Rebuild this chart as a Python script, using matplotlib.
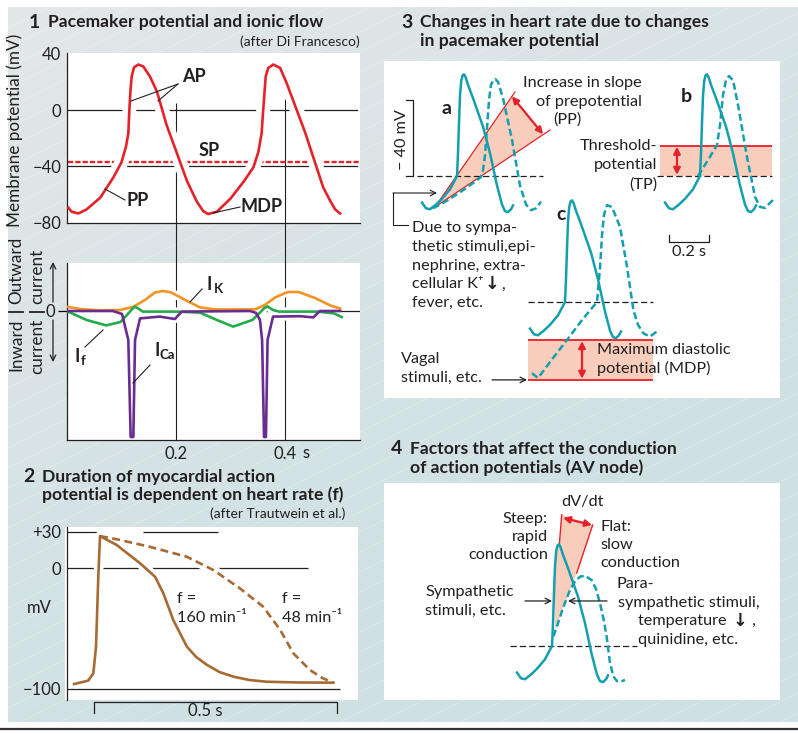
import numpy as np
import matplotlib
matplotlib.use("Agg")
import matplotlib.pyplot as plt
from matplotlib.patches import Rectangle

plt.rcParams['font.family'] = ['Lato', 'DejaVu Sans']

INK = '#231f20'
RED = '#e42229'
TEAL = '#149fae'
SALMON = '#f9cdbb'
BROWN = '#a66a33'
ORANGE = '#f39325'
GREEN = '#23aa4b'
PURPLE = '#6b2c91'

# ---------------- panel 1: pacemaker potential (s, mV)
pm_t = [0.0025, 0.0086, 0.021, 0.036, 0.061, 0.085, 0.100, 0.108, 0.1125, 0.1144,
        0.1165, 0.1187, 0.123, 0.131, 0.140, 0.152, 0.165, 0.183, 0.201, 0.220,
        0.238, 0.250, 0.259, 0.275, 0.300, 0.325, 0.342, 0.351, 0.357, 0.360,
        0.3646, 0.3694, 0.3786, 0.391, 0.403, 0.437, 0.470, 0.483, 0.492, 0.501]
pm_v = [-69.5, -72.4, -73.6, -70.7, -62.4, -48, -37.2, -26.4, -16.8, 0,
        14, 24, 30.4, 32.4, 31, 24, 13.2, -11, -30, -50.4,
        -65, -72, -74, -72.4, -63, -50.5, -40.8, -30, -16.8, 0,
        24, 30, 32.4, 30, 19.2, -16, -55, -64.7, -70.7, -73.6]
sp_level = -37
time_marks = [0.2, 0.4]
mark_tops = [5, 12]

# ionic currents (arbitrary units, outward positive)
ik_t = [0.002, 0.024, 0.06, 0.097, 0.121, 0.143, 0.161, 0.176, 0.191, 0.217,
        0.244, 0.272, 0.345, 0.363, 0.382, 0.405, 0.425, 0.455, 0.483, 0.501]
ik_i = [0.2, 0.1, 0.03, 0.05, 0.2, 0.55, 0.92, 1.0, 0.93, 0.55,
        0.18, 0.08, 0.08, 0.3, 0.68, 0.95, 0.95, 0.65, 0.28, 0.12]
if_t = [0.002, 0.036, 0.072, 0.098, 0.110, 0.118, 0.124, 0.131, 0.139, 0.20,
        0.244, 0.275, 0.305, 0.340, 0.356, 0.362, 0.368, 0.378, 0.389, 0.46,
        0.49, 0.504]
if_i = [-0.03, -0.45, -0.72, -0.55, -0.2, 0.05, 0.22, 0.12, -0.03, -0.03,
        -0.08, -0.45, -0.78, -0.45, -0.03, 0.15, 0.23, 0.05, -0.03, -0.03,
        -0.12, -0.3]
ica_t = [0.0, 0.084, 0.101, 0.1125, 0.1168, 0.1217, 0.1248, 0.134, 0.170, 0.198,
         0.2105, 0.336, 0.347, 0.354, 0.358, 0.3615, 0.365, 0.368, 0.378, 0.428,
         0.452, 0.464, 0.501]
ica_i = [0.0, 0.0, -0.15, -1.45, -6.3, -6.3, -1.45, -0.37, -0.28, -0.4,
         -0.03, 0.0, -0.1, -0.45, -1.45, -6.3, -6.3, -1.45, -0.28, -0.26,
         -0.32, 0.0, 0.0]

# ---------------- panel 2: myocardial AP at two heart rates (s, mV)
fast_t = [-0.041, -0.012, -0.0014, 0.0041, 0.0088, 0.0123, 0.0467, 0.0947, 0.1255,
          0.1426, 0.163, 0.191, 0.21, 0.232, 0.258, 0.2866, 0.32, 0.355, 0.42, 0.4924]
fast_v = [-95.9, -93.1, -87, -65, -7.2, 26.4, 19, 3.9, -7.2,
          -20.9, -43, -65, -73.5, -80, -86, -89.8, -92.6, -94, -94.6, -94.8]
slow_t = [0.0123, 0.05, 0.115, 0.191, 0.2455, 0.30, 0.348, 0.383, 0.41, 0.444, 0.47, 0.492]
slow_v = [26.4, 23.5, 17.5, 9.3, -1.7, -16.8, -32, -51.2, -70.5, -84.3, -91, -94.8]

# ---------------- panels 3 and 4: schematic APs (s, mV)
threshold = -40
ctl_t = [-0.04, -0.02, 0.0, 0.03, 0.06, 0.10, 0.135, 0.140, 0.145, 0.150, 0.156, 0.163,
         0.170, 0.178, 0.19, 0.215, 0.265, 0.30, 0.335, 0.36, 0.375, 0.39, 0.405, 0.415]
ctl_v = [-54, -57, -57.5, -55, -52, -47, -40, -28, -12, 2, 10, 13,
         13.5, 12, 8, 1, -14, -28, -45, -55, -58.5, -59, -57.5, -55.5]
# a: steeper prepotential
slope_t = [0.015, 0.06, 0.10, 0.165, 0.225, 0.255, 0.265, 0.275, 0.285, 0.295, 0.305,
           0.317, 0.327, 0.34, 0.365, 0.41, 0.45, 0.48, 0.505, 0.53, 0.555]
slope_v = [-57, -54.5, -52, -47.5, -43, -40.5, -37, -29, -15, 0, 8,
           10.5, 11, 9.5, 1, -21, -45, -55, -58, -57, -53.5]
wedge_t = [0.025, 0.41, 0.565]
wedge_v = [-56.3, 1.9, -18]
wedge_ends_t = [0.425, 0.60]
wedge_ends_v = [4.2, -15.8]
# b: higher threshold potential
tp_level = -24
tp_t = [0.125, 0.175, 0.22, 0.235, 0.25, 0.265, 0.28, 0.30, 0.325, 0.37, 0.41, 0.435, 0.46, 0.50]
tp_v = [-40, -31.6, -23.7, -13.2, 2.6, 10.5, 12.6, 10.5, -2.6, -30, -51, -56.3, -56.8, -52.6]
# c: more negative maximum diastolic potential
mdp_ctl, mdp_low = -60, -81
mdp_t = [-0.03, 0.0, 0.075, 0.145, 0.22, 0.295, 0.31, 0.32, 0.33, 0.345, 0.37,
         0.41, 0.445, 0.477, 0.50, 0.527, 0.56, 0.593]
mdp_v = [-77.5, -80, -69.5, -60, -49.5, -40, -22, -5, 6, 11, 10,
         -0.5, -21.5, -44.2, -52, -56.5, -58.2, -55.6]
# 4: slow upstroke (AV node)
av_t = [0.142, 0.165, 0.19, 0.21, 0.225, 0.25, 0.275, 0.30, 0.333, 0.355, 0.375,
        0.395, 0.408, 0.425, 0.442, 0.46, 0.475, 0.50]
av_v = [-35, -28, -20, -14.5, -10.5, -6, -3.5, -3, -5.3, -10, -17.4,
        -27, -35, -49, -56, -58.5, -58.8, -57.9]
dvdt_t = [0.1835, 0.3385, 0.2585, 0.225, 0.19, 0.15, 0.150, 0.156, 0.1715]
dvdt_v = [29, 23.7, -1.6, -10.5, -20, -31.6, 2, 10, 13.2]

W, H = 798, 734
PX_S, PX_MV = 200, 1.9
fig = plt.figure(figsize=(W / 100, H / 100), dpi=100)


def px_axes(x0, y0, x1, y1):
    ax = fig.add_axes([x0 / W, 1 - y1 / H, (x1 - x0) / W, (y1 - y0) / H])
    ax.patch.set_alpha(0)
    return ax


def part_axes(box, t0_px, thr_py):
    ax = px_axes(*box)
    x0, y0, x1, y1 = box
    ax.set_xlim((x0 - t0_px) / PX_S, (x1 - t0_px) / PX_S)
    ax.set_ylim(threshold - (y1 - thr_py) / PX_MV, threshold + (thr_py - y0) / PX_MV)
    ax.axis('off')
    return ax


# ---------------- background
bg = fig.add_axes([0, 0, 1, 1])
bg.set_xlim(0, W)
bg.set_ylim(H, 0)
bg.axis('off')
gx, gy = np.meshgrid(np.linspace(0, 1, 200), np.linspace(0, 1, 200))
f = np.clip(0.55 * gx + 0.9 * gy, 0, 1)[..., None]
grey = np.array([0.890, 0.904, 0.908])
blue = np.array([0.812, 0.882, 0.894])
bg.imshow(grey * (1 - f) + blue * f, extent=[8, W, 722, 7], aspect='auto', zorder=0)
frame = Rectangle((8, 7), W - 8, 715, transform=bg.transData, fc='none', ec='none')
bg.add_patch(frame)
for c in range(-1500, 900, 40):
    ln, = bg.plot([c, c + 1430], [722, 7], color='white', lw=0.5, alpha=0.35, zorder=0.5)
    ln.set_clip_path(frame)
for (x0, y0, x1, y1) in [(67, 53, 360, 223), (67, 263, 360, 440), (65, 527, 358, 700),
                         (384, 61, 780, 398), (384, 483, 780, 700)]:
    bg.add_patch(Rectangle((x0, y0), x1 - x0, y1 - y0, fc='white', ec='none', zorder=1))
bg.plot([0, W], [729, 729], color='#333333', lw=1.6)

# ---------------- panel 1a: membrane potential
ax1 = px_axes(67, 53, 360, 223)
ax1.set_xlim(0, 0.5376)
ax1.set_ylim(-80.4, 40.6)
for s in ['top', 'right']:
    ax1.spines[s].set_visible(False)
for s in ['left', 'bottom']:
    ax1.spines[s].set_linewidth(0.9)
    ax1.spines[s].set_color(INK)
ax1.set_xticks([])
ax1.set_yticks([40, 0, -40, -80], ['40', '0', '\u221240', '\u221280'], fontsize=12, color=INK)
ax1.tick_params(axis='y', length=0, pad=4)
ax1.axhline(0, xmax=0.99, color=INK, lw=0.9, zorder=1)
ax1.axhline(-40, xmax=0.99, color=INK, lw=0.9, zorder=1)
ax1.vlines(time_marks, -80.4, mark_tops, color=INK, lw=0.8, zorder=1)
ax1.hlines(sp_level, 0.001, 0.535, color=RED, lw=1.7, linestyles=(0, (2.2, 0.9)), zorder=1.5)
ax1.plot(pm_t, pm_v, color='white', lw=10, zorder=2, solid_capstyle='butt')
ax1.plot(pm_t, pm_v, color=RED, lw=1.9, zorder=3, solid_joinstyle='round')

# ---------------- panel 1b: ionic currents
ax2 = px_axes(67, 263, 360, 440)
ax2.set_xlim(0, 0.5376)
ax2.set_ylim(-6.45, 2.4)
for s in ['top', 'right']:
    ax2.spines[s].set_visible(False)
for s in ['left', 'bottom']:
    ax2.spines[s].set_linewidth(0.9)
    ax2.spines[s].set_color(INK)
ax2.set_yticks([0], ['0'], fontsize=12, color=INK)
ax2.tick_params(axis='y', length=6.5, width=0.9, pad=2)
ax2.set_xticks(time_marks, ['0.2', '0.4'], fontsize=12, color=INK)
ax2.tick_params(axis='x', length=0, pad=4)
ax2.axhline(0, color=INK, lw=0.9, zorder=1)
# time marks run on up through the gap to panel 1a (40 px gap = 2 current units)
ax2.vlines(time_marks, -6.45, 4.4, color=INK, lw=0.8, zorder=1, clip_on=False)
for xs, ys in [(ik_t, ik_i), (if_t, if_i), (ica_t, ica_i)]:
    ax2.plot(xs, ys, color='white', lw=6, zorder=2, solid_capstyle='butt')
ax2.plot(ik_t, ik_i, color=ORANGE, lw=1.9, zorder=3)
ax2.plot(if_t, if_i, color=GREEN, lw=1.9, zorder=3)
ax2.plot(ica_t, ica_i, color=PURPLE, lw=1.9, zorder=3.2)

# ---------------- panel 2: AP duration
axp = px_axes(67, 527, 358, 700)
axp.set_xlim(-0.0556, 0.543)
axp.set_ylim(-109.1, 33.9)
for s in ['top', 'right', 'bottom']:
    axp.spines[s].set_visible(False)
axp.spines['left'].set_linewidth(0.9)
axp.spines['left'].set_color(INK)
axp.set_xticks([])
axp.set_yticks([30, 0, -100], ['+30', '0', '\u2212100'], fontsize=12, color=INK)
axp.tick_params(axis='y', length=0, pad=4)
axp.hlines([30, 30, 0, -100], [-0.0556, 0.10, -0.0556, -0.0556], [0.007, 0.255, 0.44, 0.506],
           color=INK, lw=0.9, zorder=1)
axp.plot(fast_t, fast_v, color='white', lw=7, zorder=2, solid_capstyle='butt')
axp.plot(slow_t, slow_v, color='white', lw=7, zorder=2, solid_capstyle='butt')
axp.plot(slow_t, slow_v, color=BROWN, lw=1.9, ls=(0, (3, 1.7)), zorder=3)
axp.plot(fast_t, fast_v, color=BROWN, lw=1.9, zorder=3, solid_joinstyle='round')
axp.plot([0, 0, 0.5, 0.5], [-120, -110.7, -110.7, -120], color=INK, lw=0.9, clip_on=False)

# ---------------- panel 3
P3 = (384, 61, 780, 398)
ax_a = part_axes(P3, 430, 176)
ax_a.fill(wedge_t, wedge_v, color=SALMON, lw=0, zorder=1)
ax_a.plot([wedge_t[0], wedge_ends_t[0]], [wedge_v[0], wedge_ends_v[0]], color=RED, lw=0.9, zorder=2)
ax_a.plot([wedge_t[0], wedge_ends_t[1]], [wedge_v[0], wedge_ends_v[1]], color=RED, lw=0.9, zorder=2)
ax_a.annotate('', xy=(wedge_t[2], wedge_v[2]), xytext=(wedge_t[1], wedge_v[1]),
              arrowprops=dict(arrowstyle='<|-|>', color=RED, lw=1.6, mutation_scale=10,
                              shrinkA=0, shrinkB=0), zorder=4)
ax_a.hlines(threshold, -0.065, 0.565, color=INK, lw=0.9, linestyles=(0, (5, 2.5)), zorder=2)
ax_a.plot([-0.12, -0.085, -0.085, -0.12], [0, 0, threshold, threshold], color=INK, lw=0.9)
ax_a.plot(ctl_t, ctl_v, color=TEAL, lw=1.8, zorder=3)
ax_a.plot(slope_t, slope_v, color=TEAL, lw=1.8, ls=(0, (2.8, 1.4)), zorder=3)

ax_b = part_axes(P3, 673, 176)
ax_b.fill_between([-0.065, 0.495], threshold, tp_level, color=SALMON, lw=0, zorder=1)
ax_b.hlines(tp_level, -0.065, 0.495, color=RED, lw=1.3, zorder=2)
ax_b.hlines(threshold, -0.08, 0.495, color=INK, lw=0.9, linestyles=(0, (5, 2.5)), zorder=2)
ax_b.annotate('', xy=(0.02, tp_level - 0.6), xytext=(0.02, threshold + 0.6),
              arrowprops=dict(arrowstyle='<|-|>', color=RED, lw=1.6, mutation_scale=10,
                              shrinkA=0, shrinkB=0), zorder=4)
ax_b.plot(ctl_t, ctl_v, color=TEAL, lw=1.8, zorder=3)
ax_b.plot(tp_t, tp_v, color=TEAL, lw=1.8, ls=(0, (2.8, 1.4)), zorder=3)
ax_b.plot([-0.02, -0.02, 0.18, 0.18], [-71, -74.7, -74.7, -71], color=INK, lw=0.9)

ax_c = part_axes(P3, 538, 302)
ax_c.fill_between([-0.05, 0.575], mdp_low, mdp_ctl, color=SALMON, lw=0, zorder=1)
ax_c.hlines([mdp_ctl, mdp_low], -0.05, 0.575, color=RED, lw=1.3, zorder=2)
ax_c.hlines(threshold, -0.05, 0.575, color=INK, lw=0.9, linestyles=(0, (5, 2.5)), zorder=2)
ax_c.annotate('', xy=(0.22, mdp_low + 0.6), xytext=(0.22, mdp_ctl - 0.6),
              arrowprops=dict(arrowstyle='<|-|>', color=RED, lw=1.6, mutation_scale=10,
                              shrinkA=0, shrinkB=0), zorder=4)
ax_c.plot(ctl_t, ctl_v, color=TEAL, lw=1.8, zorder=3)
ax_c.plot(mdp_t, mdp_v, color=TEAL, lw=1.8, ls=(0, (2.8, 1.4)), zorder=3)
ax_c.annotate('', xy=(-0.055, mdp_low), xytext=(-0.23, mdp_low),
              arrowprops=dict(arrowstyle='->', color=INK, lw=0.9, shrinkA=0, shrinkB=0))

# ---------------- panel 4
ax_d = part_axes((384, 483, 780, 700), 525, 646)
ax_d.fill(dvdt_t, dvdt_v, color=SALMON, lw=0, zorder=1)
ax_d.plot(dvdt_t[:1] + dvdt_t[-1:], dvdt_v[:1] + dvdt_v[-1:], color=RED, lw=1.0, zorder=2)
ax_d.plot(dvdt_t[1:3], dvdt_v[1:3], color=RED, lw=1.0, zorder=2)
ax_d.annotate('', xy=(0.335, 23.7), xytext=(0.19, 27.4),
              arrowprops=dict(arrowstyle='<|-|>', color=RED, lw=1.6, mutation_scale=10,
                              shrinkA=0, shrinkB=0), zorder=4)
ax_d.hlines(threshold, -0.075, 0.56, color=INK, lw=0.9, linestyles=(0, (5, 2.5)), zorder=2)
ax_d.plot(ctl_t, ctl_v, color=TEAL, lw=1.8, zorder=3)
ax_d.plot(av_t, av_v, color=TEAL, lw=1.8, ls=(0, (2.8, 1.4)), zorder=3)
ax_d.annotate('', xy=(0.135, -16.3), xytext=(0.0, -16.3),
              arrowprops=dict(arrowstyle='->', color=INK, lw=0.9, shrinkA=0, shrinkB=0))
ax_d.annotate('', xy=(0.215, -16.3), xytext=(0.41, -16.3),
              arrowprops=dict(arrowstyle='->', color=INK, lw=0.9, shrinkA=0, shrinkB=0))

# ---------------- text overlay (pixel coordinates)
ov = fig.add_axes([0, 0, 1, 1])
ov.set_xlim(0, W)
ov.set_ylim(H, 0)
ov.axis('off')
ov.patch.set_alpha(0)
renderer = fig.canvas.get_renderer()

TXT = 11.7


def txt(x, y, s, size=TXT, ha='left', weight='normal', **kw):
    return ov.text(x, y, s, fontsize=size, ha=ha, va='center', color=INK,
                   fontweight=weight, **kw)


def lines(x, y0, rows, step, size=TXT, ha='left'):
    return [txt(x, y0 + k * step, s, size=size, ha=ha) for k, s in enumerate(rows)]


def heading(x, y, num, rows):
    txt(x, y, num, size=14, weight='bold')
    for k, s in enumerate(rows):
        txt(x + 19, y + k * 19, s, size=12.6, weight='bold')


def seg(*pts):
    ov.plot([p[0] for p in pts], [p[1] for p in pts], color=INK, lw=0.8)


def down_arrow_after(t, tail):
    # bold down arrow followed by punctuation, placed after an existing text
    bb = t.get_window_extent(renderer)
    x_end = ov.transData.inverted().transform((bb.x1, bb.y0))[0]
    y = t.get_position()[1]
    a = ov.text(x_end + 1.5, y, '\u2193', fontsize=TXT + 1, fontweight='bold',
                family='DejaVu Sans', ha='left', va='center', color=INK)
    bb2 = a.get_window_extent(renderer)
    x2 = ov.transData.inverted().transform((bb2.x1, bb2.y0))[0]
    txt(x2 + 1, y, tail)


heading(29, 22, '1', ['Pacemaker potential and ionic flow'])
txt(360, 42, '(after Di Francesco)', size=10, ha='right')
txt(15, 130, 'Membrane potential (mV)', size=12.3, ha='center', rotation=90)

txt(182, 77, 'AP', size=13, weight='bold')
seg((178, 84), (131, 101))
seg((178, 84), (158, 101))
txt(209, 151, 'SP', size=13, weight='bold', ha='center')
txt(138, 201, 'PP', size=13, weight='bold', ha='center')
seg((125, 200), (105, 189))
txt(262, 206, 'MDP', size=13, weight='bold', ha='center')
seg((240, 207), (213, 213))

# current axis labels
for x, lo, hi in [(16, 'Inward', 'Outward'), (37, 'current', 'current')]:
    ov.text(x, 319, lo, fontsize=12.3, rotation=90, ha='center', va='top', color=INK)
    ov.text(x, 304, hi, fontsize=12.3, rotation=90, ha='center', va='bottom', color=INK)
    ov.plot([x - 7, x + 7], [311.5, 311.5], color=INK, lw=1.3)
ov.annotate('', xy=(53, 262), xytext=(53, 302),
            arrowprops=dict(arrowstyle='->', color=INK, lw=0.9, shrinkA=0, shrinkB=0))
ov.annotate('', xy=(53, 362), xytext=(53, 320),
            arrowprops=dict(arrowstyle='->', color=INK, lw=0.9, shrinkA=0, shrinkB=0))
txt(302, 453, 's', size=12)

txt(207, 285, 'I', size=13, weight='bold')
txt(213.5, 289, 'K', size=9.5, weight='bold')
seg((202, 289), (190, 302))
txt(75, 357, 'I', size=13, weight='bold')
txt(81, 361, 'f', size=9.5, weight='bold')
seg((85, 347), (103, 330))
txt(154, 351, 'I', size=13, weight='bold')
txt(160, 355, 'Ca', size=9.5, weight='bold')
seg((150, 365), (133, 383))

# panel 2 text
heading(23, 477, '2', ['Duration of myocardial action'])
txt(42, 495, 'potential is dependent on heart rate (f)', size=12.6, weight='bold')
txt(345, 514, '(after Trautwein et al.)', size=10, ha='right')
txt(39, 608, 'mV', size=12, ha='center')
lines(177, 599, ['f =', '160 min\u207b\u00b9'], 19)
lines(282, 599, ['f =', '48 min\u207b\u00b9'], 19)
txt(205, 711, '0.5 s', size=12, ha='center')

# panel 3 text
heading(401, 22, '3', ['Changes in heart rate due to changes', 'in pacemaker potential'])
txt(446, 108, 'a', size=14, weight='bold', ha='center')
txt(686, 97, 'b', size=14, weight='bold', ha='center')
txt(561, 214, 'c', size=14, weight='bold', ha='center')
txt(642, 83, 'Increase in slope', ha='right')
txt(642, 102, 'of prepotential', ha='right')
txt(582, 120, '(PP)', ha='right')
lines(657, 146, ['Threshold-', 'potential', '(TP)'], 19.5, ha='right')
txt(402, 140, '\u2212 40 mV', ha='center', rotation=90)
seg((408, 225), (393, 225), (393, 193))
ov.annotate('', xy=(437, 193), xytext=(393, 193),
            arrowprops=dict(arrowstyle='->', color=INK, lw=0.8, shrinkA=0, shrinkB=0))
rows = lines(412, 228, ['Due to sympa-', 'thetic stimuli,epi-', 'nephrine, extra-',
                        'cellular K\u207a', 'fever, etc.'], 18.8)
down_arrow_after(rows[3], ',')
txt(689, 252, '0.2 s', ha='center')
lines(597, 350, ['Maximum diastolic', 'potential (MDP)'], 18.5)
lines(401, 359, ['Vagal', 'stimuli, etc.'], 19)

# panel 4 text
heading(391, 449, '4', ['Factors that affect the conduction', 'of action potentials (AV node)'])
txt(582, 502, 'dV/dt', ha='center')
lines(548, 519, ['Steep:', 'rapid', 'conduction'], 18, ha='right')
lines(600, 527, ['Flat:', 'slow', 'conduction'], 18)
lines(425, 592, ['Sympathetic', 'stimuli, etc.'], 18.5)
txt(617, 584, 'Para-')
txt(618, 603, 'sympathetic stimuli,')
temp = txt(638, 621, 'temperature ')
down_arrow_after(temp, ' ,')
txt(638, 640, 'quinidine, etc.')

fig.savefig('out.png', dpi=100)
